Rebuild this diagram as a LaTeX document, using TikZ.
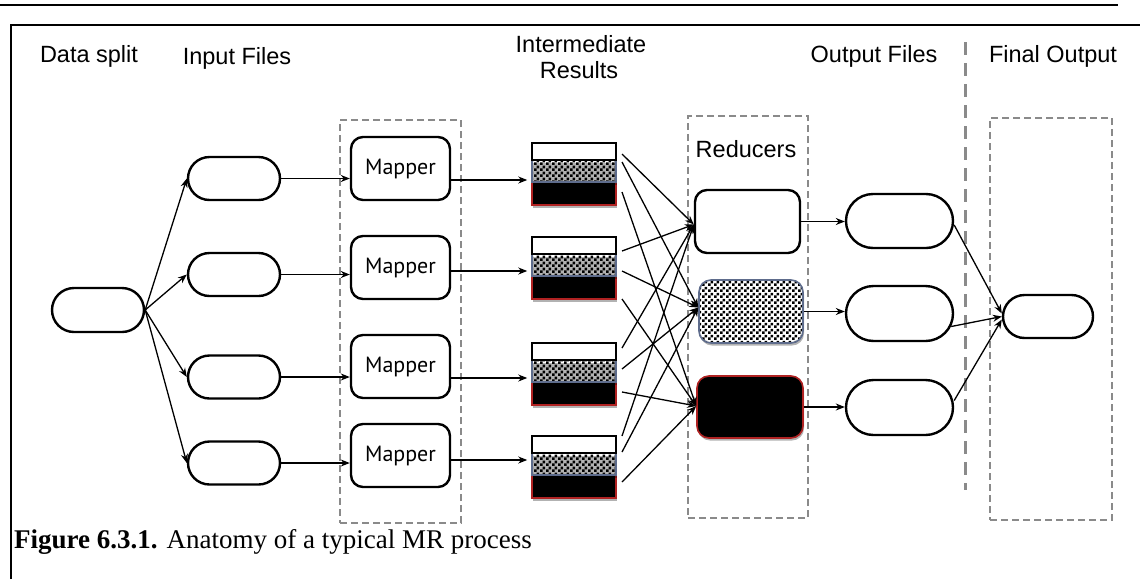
\documentclass[tikz,border=0pt]{standalone}
\usepackage{fontspec}
\setmainfont{Liberation Serif}
\setsansfont{Liberation Sans}
\newfontfamily\mapfont{PT Sans}
\usetikzlibrary{arrows.meta,shapes.misc,shadows,patterns.meta}

% fine checkerboard fill used for the middle layer of each result stack
\tikzdeclarepattern{
  name=chk, type=uncolored,
  bounding box={(0pt,0pt) and (6pt,6pt)},
  tile size={(6pt,6pt)},
  code={\fill (0pt,0pt) rectangle (3pt,3pt); \fill (3pt,3pt) rectangle (6pt,6pt);}
}

\definecolor{grpgray}{HTML}{8A8A8A}
\definecolor{chkedge}{HTML}{5E6C8C}
\definecolor{redge}{HTML}{B02222}

\tikzset{
  lbl/.style={font=\sffamily\fontsize{23.5}{28}\selectfont, anchor=base, inner sep=0pt},
  stad/.style={draw, line width=2.4pt, rounded rectangle, inner sep=0pt},
  mapbox/.style={draw, line width=2.4pt, rounded corners=12pt, minimum width=99pt,
    minimum height=63pt, inner sep=0pt, font=\mapfont\fontsize{22}{26}\selectfont},
  redbox/.style={line width=2.4pt, rounded corners=12pt, inner sep=0pt},
  arr/.style={line width=1.3pt, -{Stealth[length=9pt,width=7pt]}},
  grpbox/.style={draw=grpgray, dash pattern=on 7pt off 4pt, line width=2.2pt, inner sep=0pt},
  sep/.style={draw=grpgray, dash pattern=on 13pt off 8pt, line width=3pt},
  shd/.style={drop shadow={shadow xshift=1pt, shadow yshift=-2.5pt, opacity=0.3, fill=black}},
  layw/.style={draw, fill=white, line width=2pt, minimum width=84pt, minimum height=17pt, inner sep=0pt},
  layc/.style={draw=chkedge, line width=1.5pt, preaction={fill=white}, pattern=chk, pattern color=black,
    minimum width=84pt, minimum height=22pt, inner sep=0pt},
  layb/.style={draw=redge, fill=black, line width=1.5pt, minimum width=84pt, minimum height=23pt, inner sep=0pt},
}

\begin{document}
\begin{tikzpicture}[x=1pt, y=-1pt]
\useasboundingbox (0,0) rectangle (1140,579);

% page rules and frame
\draw[line width=2pt] (0,5) -- (1118,5);
\draw[line width=2pt] (11,579) -- (11,25) -- (1140,25);

% column headings
\node[lbl] (hsplit) at (89,62) {Data split};
\node[lbl] (hin) at (237,64) {Input Files};
\node[lbl] (hint1) at (581,52) {Intermediate};
\node[lbl] (hint2) at (579,78) {Results};
\node[lbl] (hout) at (874,62) {Output Files};
\node[lbl] (hfin) at (1053,62) {Final Output};

% group outlines
\node[grpbox, minimum width=121pt, minimum height=403pt] (mapgrp) at (400.5,321.5) {};
\node[grpbox, minimum width=120pt, minimum height=402pt] (redgrp) at (748,317) {};
\node[grpbox, minimum width=122pt, minimum height=402pt] (fingrp) at (1051,319) {};
\coordinate (septop) at (965,42);
\coordinate (sepbot) at (965,490);
\draw[sep] (septop) -- (sepbot);

\node[lbl] (hred) at (746,157) {Reducers};

% data split and input files
\node[stad, minimum width=92pt, minimum height=44pt] (ds) at (98,310) {};
\node[stad, minimum width=92pt, minimum height=43pt] (in1) at (234,178.5) {};
\node[stad, minimum width=92pt, minimum height=43pt] (in2) at (234,274.5) {};
\node[stad, minimum width=92pt, minimum height=43pt] (in3) at (234,377) {};
\node[stad, minimum width=92pt, minimum height=43pt] (in4) at (234,463) {};

% mappers
\node[mapbox] (m1) at (400.5,168.5) {Mapper};
\node[mapbox] (m2) at (400.5,267.5) {Mapper};
\node[mapbox] (m3) at (400.5,366.5) {Mapper};
\node[mapbox] (m4) at (400.5,455.5) {Mapper};

% intermediate result stacks (white / checkered / black layers)
\foreach \i/\t in {1/143, 2/237, 3/343, 4/436} {
  \node[layb, shd] (b\i) at (574,\t+50.5) {};
  \node[layc, shd] (c\i) at (574,\t+28) {};
  \node[layw] (w\i) at (574,\t+8.5) {};
}

% reducers
\node[redbox, draw=black, fill=white, minimum width=105pt, minimum height=63pt] (r1) at (747.5,221.5) {};
\node[redbox, draw=chkedge, line width=1.6pt, shd, preaction={fill=white}, pattern=chk, pattern color=black,
  minimum width=104pt, minimum height=63pt] (r2) at (751,311.5) {};
\node[redbox, draw=redge, line width=1.6pt, shd, fill=black, minimum width=106pt, minimum height=62pt] (r3) at (750,407) {};

% output files and final output
\node[stad, minimum width=107pt, minimum height=54pt] (o1) at (899.5,221) {};
\node[stad, minimum width=107pt, minimum height=55pt] (o2) at (899.5,313.5) {};
\node[stad, minimum width=107pt, minimum height=55pt] (o3) at (899.5,407.5) {};
\node[stad, minimum width=90pt, minimum height=43pt] (fo) at (1048,316.5) {};

% split to input files
\foreach \i in {1,...,4} \draw[arr] (ds.east) -- (in\i.west);

% input files to mappers
\foreach \i in {1,...,4} \draw[arr] (in\i.east) -- (in\i.east -| m\i.west);

% mappers to result stacks
\foreach \i/\o in {1/-9, 2/-6, 3/-7, 4/4} {
  \coordinate (t\i) at ([xshift=-4pt,yshift=\o pt]c\i.west);
  \draw[arr] (m\i.east |- t\i) -- (t\i);
}

% every stack feeds every reducer
\coordinate (e1) at ([yshift=-3pt]r1.west);
\coordinate (e2) at ([yshift=4pt]r2.west);
\coordinate (e3) at ([yshift=1pt]r3.west);
\foreach \i/\a/\b/\c in {1/12/20/50, 2/15/35/63, 3/6/27/50, 4/1/17/47} {
  \draw[arr] ([xshift=5pt,yshift=-\a pt]w\i.north east) -- (e1);
  \draw[arr] ([xshift=5pt,yshift=-\b pt]w\i.north east) -- (e2);
  \draw[arr] ([xshift=5pt,yshift=-\c pt]w\i.north east) -- (e3);
}

% reducers to output files
\foreach \i in {1,2,3} \draw[arr] (r\i.east) -- (r\i.east -| o\i.west);

% output files merged into the final output
\draw[arr] ([yshift=-4pt]o1.east) -- ([yshift=3pt]fo.west);
\draw[arr] ([xshift=-3pt,yshift=-13pt]o2.east) -- (fo.west);
\draw[arr] ([yshift=7pt]o3.east) -- ([yshift=-3pt]fo.west);

% caption
\node[anchor=base west, inner sep=0pt, font=\rmfamily\fontsize{27}{32}\selectfont] (cap) at (14,548)
  {\textbf{Figure 6.3.1.} Anatomy of a typical MR process};
\end{tikzpicture}
\end{document}
